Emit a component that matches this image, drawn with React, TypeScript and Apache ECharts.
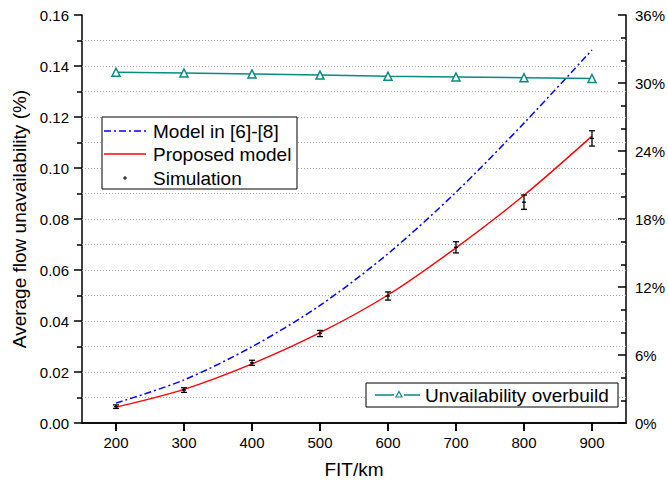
import React, { useEffect, useRef } from "react";
import * as echarts from "echarts";

const fitKm = [200, 300, 400, 500, 600, 700, 800, 900];
const modelRef = [0.0078, 0.0169, 0.0299, 0.0461, 0.0664, 0.0905, 0.1176, 0.1463];
const proposedModel = [0.0062, 0.0132, 0.0232, 0.0354, 0.0502, 0.0687, 0.0893, 0.1125];
const simMean = [0.0064, 0.0129, 0.0236, 0.0351, 0.0498, 0.0689, 0.0866, 0.1116];
const simErr = [0.0007, 0.0009, 0.001, 0.0012, 0.0016, 0.0022, 0.0028, 0.003];
const overbuild = [30.95, 30.88, 30.8, 30.7, 30.6, 30.53, 30.47, 30.4];
const gridValues = [0.01, 0.02, 0.03, 0.04, 0.05, 0.06, 0.07, 0.08, 0.09, 0.1, 0.11, 0.12, 0.13, 0.14, 0.15];

const FONT = "'Liberation Sans', Arial, Helvetica, sans-serif";
const TEAL = "#0a8a80";

export default function App() {
  const ref = useRef<HTMLDivElement>(null);
  useEffect(() => {
    if (!ref.current) return;
    const chart = echarts.init(ref.current, null, { renderer: "svg" });
    const axisLine = { show: true, lineStyle: { color: "#000", width: 1.5 } };
    const option: any = {
      animation: false,
      backgroundColor: "#fff",
      textStyle: { fontFamily: FONT },
      grid: { left: 82, right: 38, top: 15, bottom: 62, containLabel: false },
      xAxis: [
        {
          type: "value",
          min: 150,
          max: 950,
          name: "FIT/km",
          nameLocation: "middle",
          nameGap: 37,
          nameTextStyle: { fontSize: 19, color: "#000", fontFamily: FONT },
          axisLine,
          axisTick: { show: true, inside: false, length: 8, customValues: fitKm, lineStyle: { color: "#000", width: 1.5 } },
          axisLabel: { show: true, customValues: fitKm, fontSize: 15, color: "#000", margin: 12, fontFamily: FONT },
          splitLine: { show: false },
        },
        {
          type: "value",
          position: "top",
          min: 150,
          max: 950,
          axisLine,
          axisTick: { show: true, inside: true, length: 8, customValues: fitKm, lineStyle: { color: "#000", width: 1.5 } },
          axisLabel: { show: false },
          splitLine: { show: false },
        },
      ],
      yAxis: [
        {
          type: "value",
          min: 0,
          max: 0.16,
          interval: 0.02,
          name: "Average flow unavailability (%)",
          nameLocation: "middle",
          nameGap: 52,
          nameTextStyle: { fontSize: 19, color: "#000", fontFamily: FONT },
          axisLine,
          axisTick: { show: true, inside: false, length: 8, lineStyle: { color: "#000", width: 1.5 } },
          minorTick: { show: true, splitNumber: 2, length: 5, lineStyle: { color: "#000", width: 1.5 } },
          axisLabel: {
            fontSize: 15,
            color: "#000",
            margin: 13,
            fontFamily: FONT,
            formatter: (v: number) => v.toFixed(2),
          },
          splitLine: { show: false },
        },
        {
          type: "value",
          position: "right",
          min: 0,
          max: 36,
          interval: 6,
          axisLine,
          axisTick: { show: true, inside: true, length: 8, lineStyle: { color: "#000", width: 1.5 } },
          minorTick: { show: true, splitNumber: 3, length: 5, lineStyle: { color: "#000", width: 1.5 } },
          axisLabel: { fontSize: 15, color: "#000", margin: 9, fontFamily: FONT, formatter: "{value}%" },
          splitLine: { show: false },
        },
      ],
      series: [
        {
          name: "Model in [6]-[8]",
          type: "line",
          smooth: 0.3,
          showSymbol: false,
          data: fitKm.map((x, i) => [x, modelRef[i]]),
          lineStyle: { color: "#0000ff", width: 1.5, type: [7, 3, 2, 3] },
          z: 3,
          markLine: {
            silent: true,
            symbol: ["none", "none"],
            label: { show: false },
            emphasis: { disabled: true },
            lineStyle: { color: "#a8a8a8", type: [1, 2], width: 1 },
            data: gridValues.map((v) => ({ yAxis: v })),
            z: 1,
          },
        },
        {
          name: "Proposed model",
          type: "line",
          smooth: 0.3,
          showSymbol: false,
          data: fitKm.map((x, i) => [x, proposedModel[i]]),
          lineStyle: { color: "#ff0000", width: 1.4 },
          z: 3,
        },
        {
          name: "Simulation",
          type: "custom",
          data: fitKm.map((x, i) => [x, simMean[i], simErr[i]]),
          encode: { x: 0, y: 1 },
          z: 5,
          renderItem: (params: any, api: any) => {
            const x = api.value(0);
            const y = api.value(1);
            const e = api.value(2);
            const top = api.coord([x, y + e]);
            const bot = api.coord([x, y - e]);
            const c = api.coord([x, y]);
            const w = 3;
            const st = { stroke: "#000", lineWidth: 1.3 };
            return {
              type: "group",
              children: [
                { type: "line", shape: { x1: top[0], y1: top[1], x2: bot[0], y2: bot[1] }, style: st },
                { type: "line", shape: { x1: top[0] - w, y1: top[1], x2: top[0] + w, y2: top[1] }, style: st },
                { type: "line", shape: { x1: bot[0] - w, y1: bot[1], x2: bot[0] + w, y2: bot[1] }, style: st },
                { type: "line", shape: { x1: c[0] - 2, y1: c[1], x2: c[0] + 2, y2: c[1] }, style: st },
              ],
            };
          },
        },
        {
          name: "Unvailability overbuild",
          type: "line",
          yAxisIndex: 1,
          data: fitKm.map((x, i) => [x, overbuild[i]]),
          symbol: "triangle",
          symbolSize: 8,
          showSymbol: true,
          itemStyle: { color: "#fff", borderColor: TEAL, borderWidth: 1.5 },
          lineStyle: { color: TEAL, width: 1.5 },
          z: 4,
        },
      ],
      graphic: [
        { type: "rect", shape: { x: 102, y: 117, width: 195, height: 72 }, style: { fill: "#fff", stroke: "#000", lineWidth: 1 }, z: 10 },
        { type: "line", shape: { x1: 104, y1: 131, x2: 146, y2: 131 }, style: { stroke: "#0000ff", lineWidth: 1.5, lineDash: [7, 3, 2, 3] }, z: 11 },
        { type: "text", x: 153, y: 131, style: { text: "Model in [6]-[8]", fontSize: 19, fontFamily: FONT, fill: "#000", verticalAlign: "middle" }, z: 11 },
        { type: "line", shape: { x1: 104, y1: 154, x2: 146, y2: 154 }, style: { stroke: "#ff0000", lineWidth: 1.4 }, z: 11 },
        { type: "text", x: 153, y: 154, style: { text: "Proposed model", fontSize: 19, fontFamily: FONT, fill: "#000", verticalAlign: "middle" }, z: 11 },
        { type: "line", shape: { x1: 123, y1: 178, x2: 127, y2: 178 }, style: { stroke: "#000", lineWidth: 1 }, z: 11 },
        { type: "line", shape: { x1: 125, y1: 176, x2: 125, y2: 180 }, style: { stroke: "#000", lineWidth: 1 }, z: 11 },
        { type: "text", x: 153, y: 178, style: { text: "Simulation", fontSize: 19, fontFamily: FONT, fill: "#000", verticalAlign: "middle" }, z: 11 },

        { type: "rect", shape: { x: 366, y: 383, width: 252, height: 24 }, style: { fill: "#fff", stroke: "#000", lineWidth: 1 }, z: 10 },
        { type: "line", shape: { x1: 375, y1: 395, x2: 394, y2: 395 }, style: { stroke: TEAL, lineWidth: 1.5 }, z: 11 },
        { type: "line", shape: { x1: 404, y1: 395, x2: 420, y2: 395 }, style: { stroke: TEAL, lineWidth: 1.5 }, z: 11 },
        { type: "polygon", shape: { points: [[399, 391.5], [402, 397], [396, 397]] }, style: { fill: "#fff", stroke: TEAL, lineWidth: 1.2 }, z: 11 },
        { type: "text", x: 425, y: 395, style: { text: "Unvailability overbuild", fontSize: 19, fontFamily: FONT, fill: "#000", verticalAlign: "middle" }, z: 11 },
      ],
    };
    chart.setOption(option);
    return () => chart.dispose();
  }, []);
  return <div ref={ref} style={{ position: "fixed", left: 0, top: 0, width: 668, height: 485 }} />;
}
